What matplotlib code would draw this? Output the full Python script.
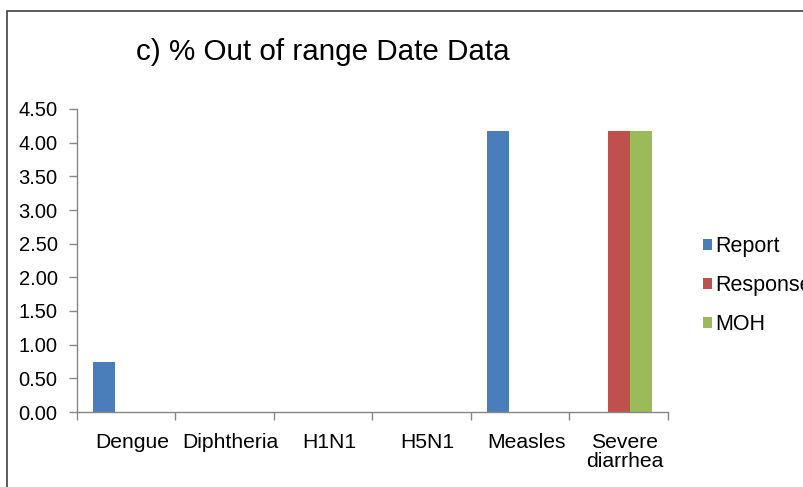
import matplotlib
matplotlib.use("Agg")
import matplotlib.pyplot as plt
from matplotlib.patches import Rectangle
from matplotlib.transforms import offset_copy
import numpy as np

plt.rcParams['font.family'] = ['Liberation Sans', 'DejaVu Sans']

categories = ["Dengue", "Diphtheria", "H1N1", "H5N1", "Measles", "Severe\ndiarrhea"]
report = [0.74, 0, 0, 0, 4.17, 0]
response = [0, 0, 0, 0, 0, 4.17]
moh = [0, 0, 0, 0, 0, 4.17]
series = [("Report", report, "#4a7ebb"), ("Response", response, "#c0504d"), ("MOH", moh, "#9bbb59")]
yticks = [0, 0.5, 1.0, 1.5, 2.0, 2.5, 3.0, 3.5, 4.0, 4.5]

W, H = 804, 487
fig = plt.figure(figsize=(W/100, H/100), dpi=100)
ax = fig.add_axes([77/W, 1-412/H, (668-77)/W, (412-109)/H])

x = np.arange(len(categories))
bw = 0.224
for i, (name, vals, col) in enumerate(series):
    ax.bar(x + (i-1)*bw, vals, width=bw, color=col, label=name, zorder=2)

ax.set_xlim(-0.5, len(categories)-0.5)
ax.set_ylim(0, 4.5)
ax.set_yticks(yticks)
ax.set_yticklabels([f"{v:.2f}" for v in yticks], fontsize=14.5)
ax.set_xticks(x)
ax.set_xticklabels(categories, fontsize=15.2, linespacing=0.98)
ax.set_xticks(np.arange(-0.5, len(categories)), minor=True)
ax.tick_params(axis='x', which='major', length=0, pad=15)
ax.tick_params(axis='x', which='minor', length=6, color='#868686', width=1)
ax.tick_params(axis='y', length=6, color='#868686', width=1, pad=8)
for lbl in ax.get_xticklabels():
    lbl.set_transform(offset_copy(lbl.get_transform(), fig=fig, x=6, y=0, units='dots'))
for s in ['top', 'right']:
    ax.spines[s].set_visible(False)
for s in ['left', 'bottom']:
    ax.spines[s].set_color('#868686')
    ax.spines[s].set_linewidth(1)

fig.text(323/W, 1-52/H, "c) % Out of range Date Data", fontsize=21.3, ha='center', va='center')

leg = fig.legend(loc='upper left', bbox_to_anchor=(703/W, 1-236/H), frameon=False,
                 fontsize=15.5, handlelength=0.42, handleheight=0.42, handletextpad=0.15,
                 labelspacing=0.84, borderaxespad=0, borderpad=0)

fig.patches.append(Rectangle((7/W, -0.1), 1.2, 1-11/H+0.1, transform=fig.transFigure,
                             fill=False, edgecolor='#404040', linewidth=1.2))

fig.savefig("out.png", dpi=100)
